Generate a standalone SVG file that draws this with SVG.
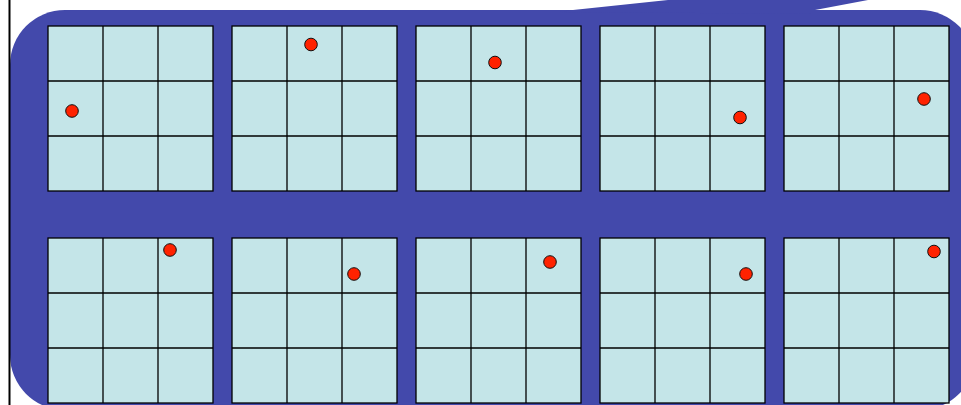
<svg xmlns="http://www.w3.org/2000/svg" width="961" height="405" viewBox="0 0 961 405">
<defs>
<style>
.bg{fill:#4349AB;}
.cell{fill:#C4E5E8;stroke:#000;stroke-width:1.3;}
.ln{stroke:#000;stroke-width:1.3;fill:none;}
.dot{fill:#FF2200;stroke:#111;stroke-width:1;}
</style>
<g id="gridtpl">
<rect class="cell" x="0" y="0" width="165" height="165"/>
<path class="ln" d="M55 0V165M110 0V165M0 55H165M0 110H165"/>
</g>
</defs>
<rect x="0" y="0" width="961" height="405" fill="#ffffff"/>
<g id="bubble">
<rect class="bg" x="10" y="10" width="965" height="400" rx="55" ry="55"/>
<polygon class="bg" points="560,12 573,10 668,0 868,0 815,10 815,14"/>
</g>
<line x1="9.5" y1="0" x2="9.5" y2="405" stroke="#000" stroke-width="2"/>
<g id="grid1"><use href="#gridtpl" x="48" y="26"/><circle class="dot" cx="72" cy="111" r="6.3"/></g>
<g id="grid2"><use href="#gridtpl" x="232" y="26"/><circle class="dot" cx="311" cy="44.5" r="6.3"/></g>
<g id="grid3"><use href="#gridtpl" x="416" y="26"/><circle class="dot" cx="495" cy="62.5" r="6.3"/></g>
<g id="grid4"><use href="#gridtpl" x="600" y="26"/><circle class="dot" cx="740" cy="117.5" r="6.3"/></g>
<g id="grid5"><use href="#gridtpl" x="784" y="26"/><circle class="dot" cx="924" cy="99" r="6.3"/></g>
<g id="grid6"><use href="#gridtpl" x="48" y="238"/><circle class="dot" cx="170" cy="250" r="6.3"/></g>
<g id="grid7"><use href="#gridtpl" x="232" y="238"/><circle class="dot" cx="354" cy="274" r="6.3"/></g>
<g id="grid8"><use href="#gridtpl" x="416" y="238"/><circle class="dot" cx="550" cy="262" r="6.3"/></g>
<g id="grid9"><use href="#gridtpl" x="600" y="238"/><circle class="dot" cx="746" cy="274" r="6.3"/></g>
<g id="grid10"><use href="#gridtpl" x="784" y="238"/><circle class="dot" cx="934" cy="251.5" r="6.3"/></g>
<g id="connectors"></g>
</svg>
